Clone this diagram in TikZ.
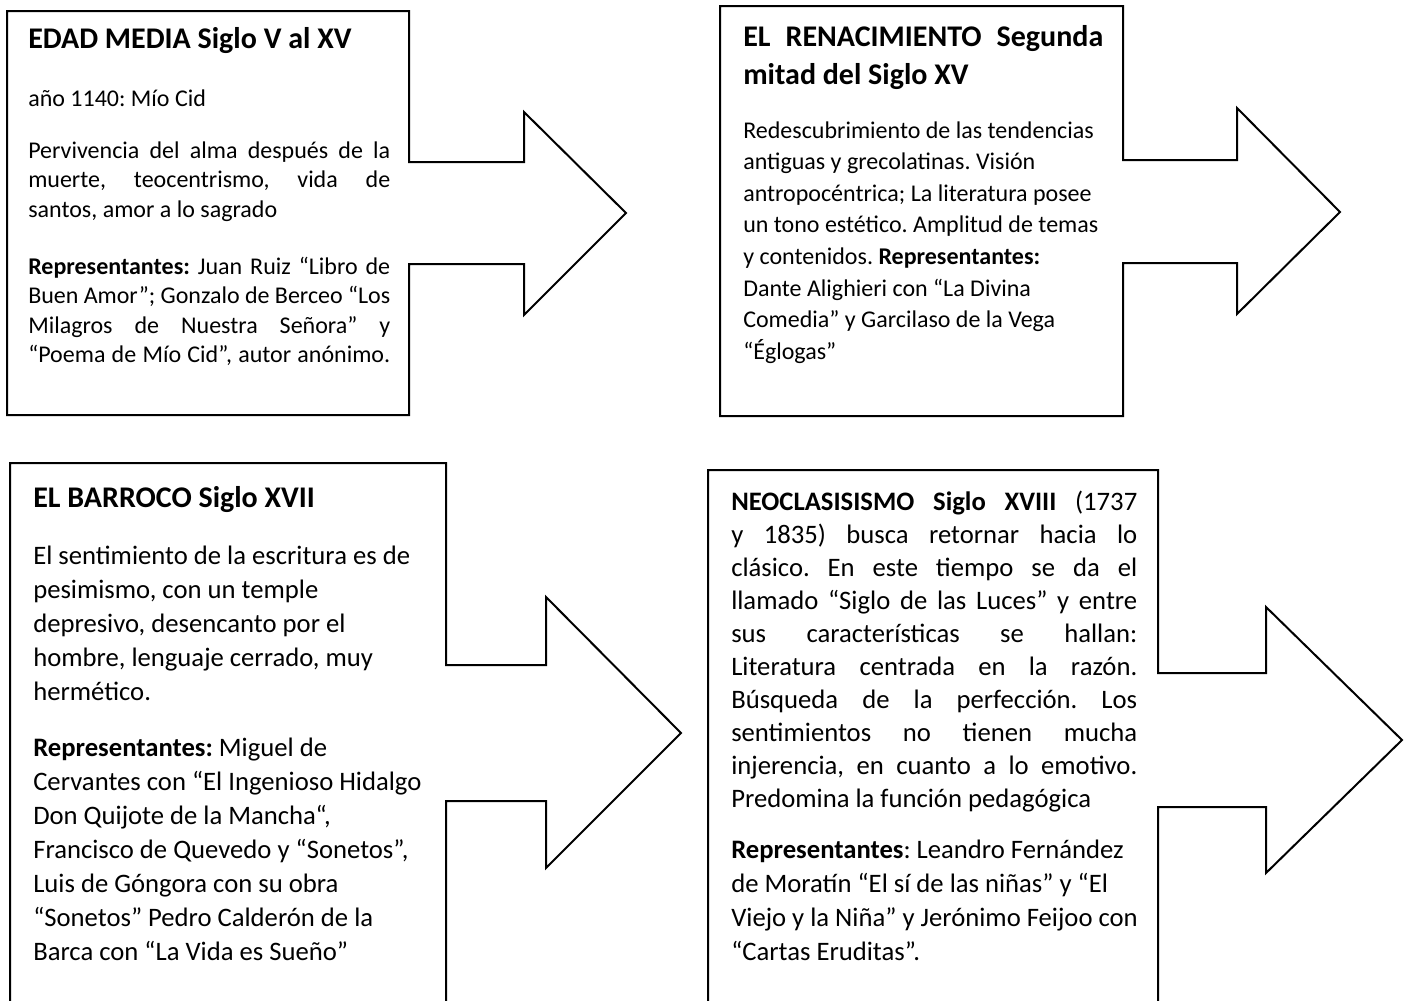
\documentclass[tikz,border=0pt]{standalone}
\usepackage{fontspec}
\setmainfont{Carlito}
\hbadness=10000
\hfuzz=20pt
\frenchspacing
\newcommand\jl[2]{\makebox[#1][s]{#2}}
\begin{document}
\begin{tikzpicture}[x=0.75pt,y=-0.75pt,
  outline/.style={draw=black,line width=1.5pt,line join=miter},
  txt/.style={anchor=base west,inner sep=0pt,align=left}]
\useasboundingbox (0,0) rectangle (1406,1000);
\clip (0,0) rectangle (1406,1000);
% shapes
\draw[outline] (7,11) -- (409,11) -- (409,162) -- (524,162) -- (524,112) -- (626,213) -- (524,315) -- (524,264) -- (409,264) -- (409,415) -- (7,415) -- cycle;
\draw[outline] (720,6) -- (1123,6) -- (1123,160) -- (1237,160) -- (1237,108) -- (1340,212) -- (1237,314) -- (1237,263) -- (1123,263) -- (1123,416) -- (720,416) -- cycle;
\draw[outline] (10,463) -- (446,463) -- (446,665) -- (546,665) -- (546,597) -- (681,733) -- (546,868) -- (546,801) -- (446,801) -- (446,1010) -- (10,1010) -- cycle;
\draw[outline] (708,470) -- (1158,470) -- (1158,673) -- (1266,673) -- (1266,607) -- (1402,740) -- (1266,873) -- (1266,807) -- (1158,807) -- (1158,1010) -- (708,1010) -- cycle;
% box 1 (anchors at last baseline)
\node[txt,font=\fontsize{22.5pt}{27pt}\selectfont\bfseries] (t1) at (28,48) {EDAD MEDIA Siglo V al XV};
\node[txt,font=\fontsize{18pt}{22.125pt}\selectfont] (a1) at (28,106) {año 1140: Mío Cid};
\node[txt,font=\fontsize{18pt}{22.125pt}\selectfont] (p1) at (28,217) {\jl{271.5pt}{Pervivencia del alma después de la}\\\jl{271.5pt}{muerte, teocentrismo, vida de}\\santos, amor a lo sagrado};
\node[txt,font=\fontsize{18pt}{22.125pt}\selectfont] (r1) at (28,362.5) {\jl{271.5pt}{\textbf{Representantes:} Juan Ruiz “Libro de}\\\jl{271.5pt}{Buen Amor”; Gonzalo de Berceo “Los}\\\jl{271.5pt}{Milagros de Nuestra Señora” y}\\\jl{271.5pt}{“Poema de Mío Cid”, autor anónimo.}};
% box 2
\node[txt,font=\fontsize{22.5pt}{28.5pt}\selectfont\bfseries] (t2) at (743,84) {\jl{270pt}{EL RENACIMIENTO Segunda}\\mitad del Siglo XV};
\node[txt,font=\fontsize{18pt}{23.7pt}\selectfont] (p2) at (743,359.2) {Redescubrimiento de las tendencias\\antiguas y grecolatinas. Visión\\antropocéntrica; La literatura posee\\un tono estético. Amplitud de temas\\y contenidos. \textbf{Representantes:}\\Dante Alighieri con “La Divina\\Comedia” y Garcilaso de la Vega\\“Églogas”};
% box 3
\node[txt,font=\fontsize{22.5pt}{27pt}\selectfont\bfseries] (t3) at (33,507) {EL BARROCO Siglo XVII};
\node[txt,font=\fontsize{20pt}{25.5pt}\selectfont] (p3) at (33,700) {El sentimiento de la escritura es de\\pesimismo, con un temple\\depresivo, desencanto por el\\hombre, lenguaje cerrado, muy\\hermético.};
\node[txt,font=\fontsize{20pt}{25.5pt}\selectfont] (r3) at (33,960) {\textbf{Representantes:} Miguel de\\Cervantes con “El Ingenioso Hidalgo\\Don Quijote de la Mancha“,\\Francisco de Quevedo y “Sonetos”,\\Luis de Góngora con su obra\\“Sonetos” Pedro Calderón de la\\Barca con “La Vida es Sueño”};
% box 4
\node[txt,font=\fontsize{20pt}{24.75pt}\selectfont] (p4) at (731,807) {\jl{304.5pt}{\textbf{NEOCLASISISMO Siglo XVIII} (1737}\\\jl{304.5pt}{y 1835) busca retornar hacia lo}\\\jl{304.5pt}{clásico. En este tiempo se da el}\\\jl{304.5pt}{llamado “Siglo de las Luces” y entre}\\\jl{304.5pt}{sus características se hallan:}\\\jl{304.5pt}{Literatura centrada en la razón.}\\\jl{304.5pt}{Búsqueda de la perfección. Los}\\\jl{304.5pt}{sentimientos no tienen mucha}\\\jl{304.5pt}{injerencia, en cuanto a lo emotivo.}\\Predomina la función pedagógica};
\node[txt,font=\fontsize{20pt}{25.5pt}\selectfont] (r4) at (731,960) {\textbf{Representantes}: Leandro Fernández\\de Moratín “El sí de las niñas” y “El\\Viejo y la Niña” y Jerónimo Feijoo con\\“Cartas Eruditas”.};
\end{tikzpicture}
\end{document}
